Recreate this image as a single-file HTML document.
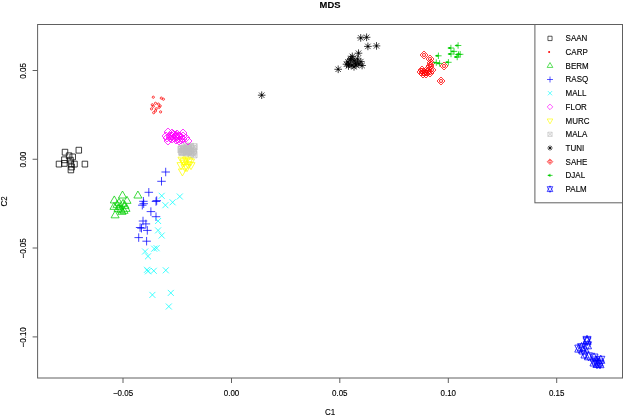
<!DOCTYPE html><html><head><meta charset="utf-8"><style>html,body{margin:0;padding:0;background:#fff;}svg{display:block;will-change:transform;}text{font-family:"Liberation Sans",sans-serif;stroke:#000;stroke-width:0.12px;}</style></head><body>
<svg width="624" height="416" viewBox="0 0 624 416">
<rect width="624" height="416" fill="#fff"/>
<path d="M62.24 149.29h5.52v5.82h-5.52zM76.04 147.29h5.52v5.82h-5.52zM56.24 161.19h5.52v5.82h-5.52zM82.14 161.19h5.52v5.82h-5.52zM68.14 166.99h5.52v5.82h-5.52zM66.34 152.89h5.52v5.82h-5.52zM69.94 153.99h5.52v5.82h-5.52zM61.64 156.89h5.52v5.82h-5.52zM61.64 160.49h5.52v5.82h-5.52zM67.74 157.29h5.52v5.82h-5.52zM68.14 160.89h5.52v5.82h-5.52zM71.74 161.19h5.52v5.82h-5.52zM68.84 164.09h5.52v5.82h-5.52z" fill="none" stroke="#000000" stroke-width="0.75"/>
<g fill="none" stroke="#FF0000" stroke-width="0.75"><circle cx="153.3" cy="97.2" r="1.1"/><circle cx="161.3" cy="98.1" r="1.1"/><circle cx="163.4" cy="99.2" r="1.1"/><circle cx="152.3" cy="104.8" r="1.1"/><circle cx="155.5" cy="103.3" r="1.1"/><circle cx="158.4" cy="104.1" r="1.1"/><circle cx="153.3" cy="106.2" r="1.1"/><circle cx="160.2" cy="105.9" r="1.1"/><circle cx="159.1" cy="107.3" r="1.1"/><circle cx="151.5" cy="108.9" r="1.1"/><circle cx="156.2" cy="108.8" r="1.1"/><circle cx="155.5" cy="110.9" r="1.1"/><circle cx="153.7" cy="112.7" r="1.1"/><circle cx="160.6" cy="111.9" r="1.1"/></g>
<path d="M137.9 191.03L141.94 198.03L133.86 198.03zM122.5 191.03L126.54 198.03L118.46 198.03zM114.3 195.93L118.34 202.93L110.26 202.93zM127 196.33L131.04 203.33L122.96 203.33zM115.1 210.83L119.14 217.83L111.06 217.83zM117 200.33L121.04 207.33L112.96 207.33zM120 202.33L124.04 209.33L115.96 209.33zM123 199.33L127.04 206.33L118.96 206.33zM125 201.33L129.04 208.33L120.96 208.33zM118 204.33L122.04 211.33L113.96 211.33zM121 205.33L125.04 212.33L116.96 212.33zM126 204.33L130.04 211.33L121.96 211.33zM122 207.33L126.04 214.33L117.96 214.33zM114 202.33L118.04 209.33L109.96 209.33zM119 198.33L123.04 205.33L114.96 205.33zM124 206.33L128.04 213.33L119.96 213.33z" fill="none" stroke="#00CD00" stroke-width="0.75"/>
<path d="M161.46 172h8.49M165.7 167.76v8.49M157.26 181.3h8.49M161.5 177.06v8.49M144.56 192.3h8.49M148.8 188.06v8.49M139.16 201.3h8.49M143.4 197.06v8.49M152.46 200.6h8.49M156.7 196.36v8.49M138.06 205.2h8.49M142.3 200.96v8.49M139.46 203.7h8.49M143.7 199.46v8.49M151.76 201.5h8.49M156 197.26v8.49M146.66 211.6h8.49M150.9 207.36v8.49M151.76 216.7h8.49M156 212.46v8.49M138.76 221h8.49M143 216.76v8.49M141.66 223.9h8.49M145.9 219.66v8.49M135.86 227.5h8.49M140.1 223.26v8.49M143.06 230.4h8.49M147.3 226.16v8.49M134.46 237.6h8.49M138.7 233.36v8.49M142.36 241.2h8.49M146.6 236.96v8.49M137.26 228.2h8.49M141.5 223.96v8.49" fill="none" stroke="#0000FF" stroke-width="0.75"/>
<path d="M158.7 192.8l6 6M158.7 198.8l6 -6M176.8 193.5l6 6M176.8 199.5l6 -6M169.6 199.3l6 6M169.6 205.3l6 -6M162.4 202.2l6 6M162.4 208.2l6 -6M155.1 218l6 6M155.1 224l6 -6M155.1 227.4l6 6M155.1 233.4l6 -6M158.7 232.5l6 6M158.7 238.5l6 -6M142.1 248.5l6 6M142.1 254.5l6 -6M145 253.3l6 6M145 259.3l6 -6M151.2 245.7l6 6M151.2 251.7l6 -6M153.6 245.2l6 6M153.6 251.2l6 -6M144 266.8l6 6M144 272.8l6 -6M145 268.3l6 6M145 274.3l6 -6M150.75 267.8l6 6M150.75 273.8l6 -6M162.8 267.3l6 6M162.8 273.3l6 -6M149.4 291.9l6 6M149.4 297.9l6 -6M167.8 289.9l6 6M167.8 295.9l6 -6M165.8 303.5l6 6M165.8 309.5l6 -6" fill="none" stroke="#00FFFF" stroke-width="0.75"/>
<path d="M183.2 143.1h6v6h-6zM183.2 143.1l6 6M183.2 149.1l6 -6M184.62 144.34h6v6h-6zM184.62 144.34l6 6M184.62 150.34l6 -6M187.41 143.37h6v6h-6zM187.41 143.37l6 6M187.41 149.37l6 -6M191.09 143.75h6v6h-6zM191.09 143.75l6 6M191.09 149.75l6 -6M178.84 145.56h6v6h-6zM178.84 145.56l6 6M178.84 151.56l6 -6M180.82 145.04h6v6h-6zM180.82 145.04l6 6M180.82 151.04l6 -6M183.22 146.19h6v6h-6zM183.22 146.19l6 6M183.22 152.19l6 -6M185.44 145.99h6v6h-6zM185.44 145.99l6 6M185.44 151.99l6 -6M188.07 144.9h6v6h-6zM188.07 144.9l6 6M188.07 150.9l6 -6M190.71 145.75h6v6h-6zM190.71 145.75l6 6M190.71 151.75l6 -6M177.98 146.65h6v6h-6zM177.98 146.65l6 6M177.98 152.65l6 -6M181.18 147.36h6v6h-6zM181.18 147.36l6 6M181.18 153.36l6 -6M183.35 148.01h6v6h-6zM183.35 148.01l6 6M183.35 154.01l6 -6M185.74 148.07h6v6h-6zM185.74 148.07l6 6M185.74 154.07l6 -6M187.63 147.88h6v6h-6zM187.63 147.88l6 6M187.63 153.88l6 -6M190.21 148.1h6v6h-6zM190.21 148.1l6 6M190.21 154.1l6 -6M178.91 148.56h6v6h-6zM178.91 148.56l6 6M178.91 154.56l6 -6M180.02 148.75h6v6h-6zM180.02 148.75l6 6M180.02 154.75l6 -6M183.74 149.1h6v6h-6zM183.74 149.1l6 6M183.74 155.1l6 -6M185.6 148.88h6v6h-6zM185.6 148.88l6 6M185.6 154.88l6 -6M187.81 149.02h6v6h-6zM187.81 149.02l6 6M187.81 155.02l6 -6M190.06 149.34h6v6h-6zM190.06 149.34l6 6M190.06 155.34l6 -6M188 151h6v6h-6zM188 151l6 6M188 157l6 -6M191 151.8h6v6h-6zM191 151.8l6 6M191 157.8l6 -6M183 150h6v6h-6zM183 150l6 6M183 156l6 -6M179 149.5h6v6h-6zM179 149.5l6 6M179 155.5l6 -6M180.5 146.5h6v6h-6zM180.5 146.5l6 6M180.5 152.5l6 -6" fill="none" stroke="#BEBEBE" stroke-width="0.75"/>
<path d="M162 136L166 132L170 136L166 140zM164 132L168 128L172 132L168 136zM168 133L172 129L176 133L172 137zM173 134L177 130L181 134L177 138zM179 133L183 129L187 133L183 137zM164 141L168 137L172 141L168 145zM166 138L170 134L174 138L170 142zM170 138L174 134L178 138L174 142zM172 140L176 136L180 140L176 144zM175 141L179 137L183 141L179 145zM179 136L183 132L187 136L183 140zM182 138L186 134L190 138L186 142zM184 141L188 137L192 141L188 145zM168 136L172 132L176 136L172 140zM172 136L176 132L180 136L176 140zM177 138L181 134L185 138L181 142zM170 135L174 131L178 135L174 139zM173 137L177 133L181 137L177 141zM168 139L172 135L176 139L172 143zM175 136L179 132L183 136L179 140zM177 140L181 136L185 140L181 144zM171 137L175 133L179 137L175 141zM174 139L178 135L182 139L178 143zM169 134L173 130L177 134L173 138zM172 135L176 131L180 135L176 139zM176 136L180 132L184 136L180 140zM179 139L183 135L187 139L183 143zM166 136L170 132L174 136L170 140zM163 138L167 134L171 138L167 142z" fill="none" stroke="#FF00FF" stroke-width="0.75"/>
<path d="M182 164.17L186.04 157.17L177.96 157.17zM186.5 164.17L190.54 157.17L182.46 157.17zM190.5 166.17L194.54 159.17L186.46 159.17zM184 167.17L188.04 160.17L179.96 160.17zM181 169.67L185.04 162.67L176.96 162.67zM188 168.67L192.04 161.67L183.96 161.67zM191 169.67L195.04 162.67L186.96 162.67zM185 171.67L189.04 164.67L180.96 164.67zM187 171.67L191.04 164.67L182.96 164.67zM182.4 175.97L186.44 168.97L178.36 168.97zM184 165.67L188.04 158.67L179.96 158.67zM189 165.17L193.04 158.17L184.96 158.17z" fill="none" stroke="#FFFF00" stroke-width="0.75"/>
<path d="M259 92.5l5.4 5.4M259 97.9l5.4 -5.4M257.89 95.2h7.62M261.7 91.39v7.62M358 35.2l5.4 5.4M358 40.6l5.4 -5.4M356.89 37.9h7.62M360.7 34.09v7.62M363.9 34.6l5.4 5.4M363.9 40l5.4 -5.4M362.79 37.3h7.62M366.6 33.49v7.62M365.2 43.7l5.4 5.4M365.2 49.1l5.4 -5.4M364.09 46.4h7.62M367.9 42.59v7.62M373.8 43.2l5.4 5.4M373.8 48.6l5.4 -5.4M372.69 45.9h7.62M376.5 42.09v7.62M355.8 50.5l5.4 5.4M355.8 55.9l5.4 -5.4M354.69 53.2h7.62M358.5 49.39v7.62M335.5 66.6l5.4 5.4M335.5 72l5.4 -5.4M334.39 69.3h7.62M338.2 65.49v7.62M349.6 53.7l5.4 5.4M349.6 59.1l5.4 -5.4M348.49 56.4h7.62M352.3 52.59v7.62M348.3 55.7l5.4 5.4M348.3 61.1l5.4 -5.4M347.19 58.4h7.62M351 54.59v7.62M345.1 59.3l5.4 5.4M345.1 64.7l5.4 -5.4M343.99 62h7.62M347.8 58.19v7.62M351.3 58l5.4 5.4M351.3 63.4l5.4 -5.4M350.19 60.7h7.62M354 56.89v7.62M352.9 60.2l5.4 5.4M352.9 65.6l5.4 -5.4M351.79 62.9h7.62M355.6 59.09v7.62M358.1 58.9l5.4 5.4M358.1 64.3l5.4 -5.4M356.99 61.6h7.62M360.8 57.79v7.62M359.4 62.8l5.4 5.4M359.4 68.2l5.4 -5.4M358.29 65.5h7.62M362.1 61.69v7.62M349.3 62.5l5.4 5.4M349.3 67.9l5.4 -5.4M348.19 65.2h7.62M352 61.39v7.62M346.4 61.5l5.4 5.4M346.4 66.9l5.4 -5.4M345.29 64.2h7.62M349.1 60.39v7.62M351.3 64.1l5.4 5.4M351.3 69.5l5.4 -5.4M350.19 66.8h7.62M354 62.99v7.62M356.1 61.2l5.4 5.4M356.1 66.6l5.4 -5.4M354.99 63.9h7.62M358.8 60.09v7.62M343.8 61.5l5.4 5.4M343.8 66.9l5.4 -5.4M342.69 64.2h7.62M346.5 60.39v7.62M347.8 56.8l5.4 5.4M347.8 62.2l5.4 -5.4M346.69 59.5h7.62M350.5 55.69v7.62M353.3 62.3l5.4 5.4M353.3 67.7l5.4 -5.4M352.19 65h7.62M356 61.19v7.62M345.8 63.3l5.4 5.4M345.8 68.7l5.4 -5.4M344.69 66h7.62M348.5 62.19v7.62M354.8 56.3l5.4 5.4M354.8 61.7l5.4 -5.4M353.69 59h7.62M357.5 55.19v7.62" fill="none" stroke="#000000" stroke-width="0.75"/>
<g fill="#000000"><circle cx="261.7" cy="95.2" r="0.9"/><circle cx="360.7" cy="37.9" r="0.9"/><circle cx="366.6" cy="37.3" r="0.9"/><circle cx="367.9" cy="46.4" r="0.9"/><circle cx="376.5" cy="45.9" r="0.9"/><circle cx="358.5" cy="53.2" r="0.9"/><circle cx="338.2" cy="69.3" r="0.9"/><circle cx="352.3" cy="56.4" r="0.9"/><circle cx="351" cy="58.4" r="0.9"/><circle cx="347.8" cy="62" r="0.9"/><circle cx="354" cy="60.7" r="0.9"/><circle cx="355.6" cy="62.9" r="0.9"/><circle cx="360.8" cy="61.6" r="0.9"/><circle cx="362.1" cy="65.5" r="0.9"/><circle cx="352" cy="65.2" r="0.9"/><circle cx="349.1" cy="64.2" r="0.9"/><circle cx="354" cy="66.8" r="0.9"/><circle cx="358.8" cy="63.9" r="0.9"/><circle cx="346.5" cy="64.2" r="0.9"/><circle cx="350.5" cy="59.5" r="0.9"/><circle cx="356" cy="65" r="0.9"/><circle cx="348.5" cy="66" r="0.9"/><circle cx="357.5" cy="59" r="0.9"/></g>
<path d="M420 55L424 51L428 55L424 59zM426 59L430 55L434 59L430 63zM427 63L431 59L435 63L431 67zM426 66L430 62L434 66L430 70zM424 69L428 65L432 69L428 73zM418 70L422 66L426 70L422 74zM417 72L421 68L425 72L421 76zM420 72L424 68L428 72L424 76zM423 72L427 68L431 72L427 76zM419 74L423 70L427 74L423 78zM422 74L426 70L430 74L426 78zM426 73L430 69L434 73L430 77zM428 70L432 66L436 70L432 74zM440 66L444 62L448 66L444 70zM437 81L441 77L445 81L441 85z" fill="none" stroke="#FF0000" stroke-width="0.75"/>
<g fill="none" stroke="#FF0000" stroke-width="0.75"><circle cx="424" cy="55" r="1.65"/><circle cx="430" cy="59" r="1.65"/><circle cx="431" cy="63" r="1.65"/><circle cx="430" cy="66" r="1.65"/><circle cx="428" cy="69" r="1.65"/><circle cx="422" cy="70" r="1.65"/><circle cx="421" cy="72" r="1.65"/><circle cx="424" cy="72" r="1.65"/><circle cx="427" cy="72" r="1.65"/><circle cx="423" cy="74" r="1.65"/><circle cx="426" cy="74" r="1.65"/><circle cx="430" cy="73" r="1.65"/><circle cx="432" cy="70" r="1.65"/><circle cx="444" cy="66" r="1.65"/><circle cx="441" cy="81" r="1.65"/></g>
<g fill="#FF0000"><circle cx="424" cy="55" r="0.5"/><circle cx="430" cy="59" r="0.5"/><circle cx="431" cy="63" r="0.5"/><circle cx="430" cy="66" r="0.5"/><circle cx="428" cy="69" r="0.5"/><circle cx="422" cy="70" r="0.5"/><circle cx="421" cy="72" r="0.5"/><circle cx="424" cy="72" r="0.5"/><circle cx="427" cy="72" r="0.5"/><circle cx="423" cy="74" r="0.5"/><circle cx="426" cy="74" r="0.5"/><circle cx="430" cy="73" r="0.5"/><circle cx="432" cy="70" r="0.5"/><circle cx="444" cy="66" r="0.5"/><circle cx="441" cy="81" r="0.5"/></g>
<path d="M435.19 55.8h6.42M438.4 52.59v6.42M433.09 62.6h6.42M436.3 59.39v6.42M436.39 63.4h6.42M439.6 60.19v6.42M445.19 62.3h6.42M448.4 59.09v6.42M454.89 45.5h6.42M458.1 42.29v6.42M447.69 48h6.42M450.9 44.79v6.42M450.79 51.4h6.42M454 48.19v6.42M447.79 54h6.42M451 50.79v6.42M455.29 54.5h6.42M458.5 51.29v6.42M456.99 54.3h6.42M460.2 51.09v6.42M453.99 57h6.42M457.2 53.79v6.42" fill="none" stroke="#00CD00" stroke-width="0.75"/>
<g fill="#00CD00"><ellipse cx="437.1" cy="55.8" rx="1.5" ry="0.95"/><ellipse cx="435" cy="62.6" rx="1.5" ry="0.95"/><ellipse cx="438.3" cy="63.4" rx="1.5" ry="0.95"/><ellipse cx="447.1" cy="62.3" rx="1.5" ry="0.95"/><ellipse cx="456.8" cy="45.5" rx="1.5" ry="0.95"/><ellipse cx="449.6" cy="48" rx="1.5" ry="0.95"/><ellipse cx="452.7" cy="51.4" rx="1.5" ry="0.95"/><ellipse cx="449.7" cy="54" rx="1.5" ry="0.95"/><ellipse cx="457.2" cy="54.5" rx="1.5" ry="0.95"/><ellipse cx="458.9" cy="54.3" rx="1.5" ry="0.95"/><ellipse cx="455.9" cy="57" rx="1.5" ry="0.95"/></g>
<path d="M587 335.23L591.04 343.4L582.96 343.4zM587 344.57L591.04 336.4L582.96 336.4zM587 336.53L591.04 344.7L582.96 344.7zM587 345.87L591.04 337.7L582.96 337.7zM587.5 340.63L591.54 348.8L583.46 348.8zM587.5 349.97L591.54 341.8L583.46 341.8zM578.8 343.93L582.84 352.1L574.76 352.1zM578.8 353.27L582.84 345.1L574.76 345.1zM581.5 342.53L585.54 350.7L577.46 350.7zM581.5 351.87L585.54 343.7L577.46 343.7zM583 345.83L587.04 354L578.96 354zM583 355.17L587.04 347L578.96 347zM585 349.83L589.04 358L580.96 358zM585 359.17L589.04 351L580.96 351zM588.5 351.63L592.54 359.8L584.46 359.8zM588.5 360.97L592.54 352.8L584.46 352.8zM594 352.83L598.04 361L589.96 361zM594 362.17L598.04 354L589.96 354zM596 355.83L600.04 364L591.96 364zM596 365.17L600.04 357L591.96 357zM599 357.83L603.04 366L594.96 366zM599 367.17L603.04 359L594.96 359zM600.8 355.13L604.84 363.3L596.76 363.3zM600.8 364.47L604.84 356.3L596.76 356.3zM597 359.33L601.04 367.5L592.96 367.5zM597 368.67L601.04 360.5L592.96 360.5zM594 357.83L598.04 366L589.96 366zM594 367.17L598.04 359L589.96 359zM600 359.53L604.04 367.7L595.96 367.7zM600 368.87L604.04 360.7L595.96 360.7z" fill="none" stroke="#0000FF" stroke-width="0.75"/>
<rect x="37.6" y="24.5" width="584.9" height="353.5" fill="none" stroke="#606060" stroke-width="1"/>
<path d="M123 378v5M231.5 378v5M339.8 378v5M448.3 378v5M556.7 378v5M37.6 70.5h-5M37.6 159.25h-5M37.6 248h-5M37.6 336.9h-5" stroke="#606060" stroke-width="1" fill="none"/>
<text transform="translate(123 395.6) scale(1 1.1)" font-size="8" text-anchor="middle" fill="#000">−0.05</text>
<text transform="translate(231.5 395.6) scale(1 1.1)" font-size="8" text-anchor="middle" fill="#000">0.00</text>
<text transform="translate(339.8 395.6) scale(1 1.1)" font-size="8" text-anchor="middle" fill="#000">0.05</text>
<text transform="translate(448.3 395.6) scale(1 1.1)" font-size="8" text-anchor="middle" fill="#000">0.10</text>
<text transform="translate(556.7 395.6) scale(1 1.1)" font-size="8" text-anchor="middle" fill="#000">0.15</text>
<text transform="translate(25.9 70.9) rotate(-90) scale(1 1.1)" font-size="8" text-anchor="middle" fill="#000">0.05</text>
<text transform="translate(25.9 159.65) rotate(-90) scale(1 1.1)" font-size="8" text-anchor="middle" fill="#000">0.00</text>
<text transform="translate(25.9 248.4) rotate(-90) scale(1 1.1)" font-size="8" text-anchor="middle" fill="#000">−0.05</text>
<text transform="translate(25.9 337.3) rotate(-90) scale(1 1.1)" font-size="8" text-anchor="middle" fill="#000">−0.10</text>
<text transform="translate(330 8) scale(1 1.05)" font-size="9.4" font-weight="bold" text-anchor="middle" fill="#000">MDS</text>
<text transform="translate(330 414.8) scale(1 1.03)" font-size="8" text-anchor="middle" fill="#000">C1</text>
<text transform="translate(6.9 201.5) rotate(-90) scale(1 1.1)" font-size="8" text-anchor="middle" fill="#000">C2</text>
<rect x="534.9" y="24.5" width="87.6" height="178.3" fill="#fff" stroke="#606060" stroke-width="1"/>
<path d="M547.93 36.22h4.14v4.37h-4.14z" fill="none" stroke="#000000" stroke-width="0.65"/>
<text transform="translate(565.6 41.3) scale(1 1.1)" font-size="8" fill="#000">SAAN</text>
<circle cx="549.1" cy="52.1" r="1.0" fill="#FF0000"/>
<text transform="translate(565.6 55) scale(1 1.1)" font-size="8" fill="#000">CARP</text>
<path d="M550 62.53L552.83 67.43L547.17 67.43z" fill="none" stroke="#00CD00" stroke-width="0.65"/>
<text transform="translate(565.6 68.7) scale(1 1.1)" font-size="8" fill="#000">BERM</text>
<path d="M547.03 79.5h5.94M550 76.53v5.94" fill="none" stroke="#0000FF" stroke-width="0.65"/>
<text transform="translate(565.6 82.4) scale(1 1.1)" font-size="8" fill="#000">RASQ</text>
<path d="M547.9 91.1l4.2 4.2M547.9 95.3l4.2 -4.2" fill="none" stroke="#00FFFF" stroke-width="0.65"/>
<text transform="translate(565.6 96.1) scale(1 1.1)" font-size="8" fill="#000">MALL</text>
<path d="M547.2 106.9L550 104.1L552.8 106.9L550 109.7z" fill="none" stroke="#FF00FF" stroke-width="0.65"/>
<text transform="translate(565.6 109.8) scale(1 1.1)" font-size="8" fill="#000">FLOR</text>
<path d="M550 123.87L552.83 118.97L547.17 118.97z" fill="none" stroke="#FFFF00" stroke-width="0.65"/>
<text transform="translate(565.6 123.5) scale(1 1.1)" font-size="8" fill="#000">MURC</text>
<path d="M547.9 132.2h4.2v4.2h-4.2zM547.9 132.2l4.2 4.2M547.9 136.4l4.2 -4.2" fill="none" stroke="#BEBEBE" stroke-width="0.65"/>
<text transform="translate(565.6 137.2) scale(1 1.1)" font-size="8" fill="#000">MALA</text>
<path d="M548.11 146.11l3.78 3.78M548.11 149.89l3.78 -3.78M547.33 148h5.33M550 145.33v5.33" fill="none" stroke="#000000" stroke-width="0.65"/>
<circle cx="550" cy="148" r="0.8" fill="#000000"/>
<text transform="translate(565.6 150.9) scale(1 1.1)" font-size="8" fill="#000">TUNI</text>
<path d="M547.2 161.7L550 158.9L552.8 161.7L550 164.5z" fill="none" stroke="#FF0000" stroke-width="0.65"/>
<circle cx="550" cy="161.7" r="1.2" fill="none" stroke="#FF0000" stroke-width="0.7"/>
<text transform="translate(565.6 164.6) scale(1 1.1)" font-size="8" fill="#000">SAHE</text>
<path d="M547.6 175.4h5M550 173.8v3.2" fill="none" stroke="#00CD00" stroke-width="0.7"/>
<ellipse cx="549.2" cy="175.4" rx="1.2" ry="0.8" fill="#00CD00"/>
<text transform="translate(565.6 178.3) scale(1 1.1)" font-size="8" fill="#000">DJAL</text>
<path d="M550 185.83L552.83 191.55L547.17 191.55zM550 192.37L552.83 186.65L547.17 186.65z" fill="none" stroke="#0000FF" stroke-width="0.65"/>
<text transform="translate(565.6 192) scale(1 1.1)" font-size="8" fill="#000">PALM</text>
</svg></body></html>
